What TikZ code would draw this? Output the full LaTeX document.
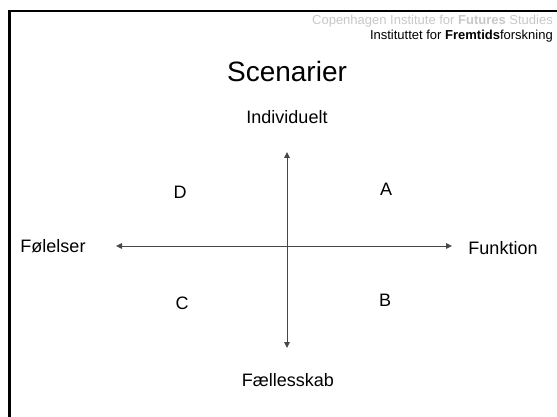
\documentclass[tikz,border=0pt]{standalone}
\usepackage{fontspec}
\setmainfont{Liberation Sans}
\usetikzlibrary{arrows.meta}
\definecolor{axisgray}{RGB}{70,70,70}
\definecolor{lightgray}{RGB}{200,200,200}
\tikzset{
  label18/.style={inner sep=0pt, font=\fontsize{18}{20}\selectfont},
  header/.style={inner sep=0pt, anchor=east, font=\fontsize{13}{15}\selectfont},
  axis/.style={draw=axisgray, line width=0.9pt, {Triangle[length=6pt,width=5.5pt]}-{Triangle[length=6pt,width=5.5pt]}},
  frame/.style={line width=2.2pt, black}
}
\begin{document}
\begin{tikzpicture}[x=1pt,y=-1pt]
\useasboundingbox (0,0) rectangle (557,417);
\fill[white] (0,0) rectangle (557,417);
\draw[frame] (557,11) -- (9.5,11) -- (9.5,417);
\node[header, text=lightgray] (cif) at (553,21) {Copenhagen Institute for \textbf{Futures} Studies};
\node[header] (iff) at (553,36) {Instituttet for \textbf{Fremtids}forskning};
\node[inner sep=0pt, font=\fontsize{28}{30}\selectfont] (title) at (287,71) {Scenarier};
\node[label18] (ind) at (287,117) {Individuelt};
\node[label18] (fael) at (288,380) {Fællesskab};
\node[label18] (fol) at (53,246) {Følelser};
\node[label18] (fun) at (503,248) {Funktion};
\node[label18] (d) at (180,192) {D};
\node[label18] (a) at (386,189) {A};
\node[label18] (c) at (182,303) {C};
\node[label18] (b) at (385,300) {B};
\coordinate (top) at (287,152);
\coordinate (bot) at (287,348);
\coordinate (left) at (116,246);
\coordinate (right) at (452,246);
\draw[axis] (top) -- (bot);
\draw[axis] (left) -- (right);
\end{tikzpicture}
\end{document}
